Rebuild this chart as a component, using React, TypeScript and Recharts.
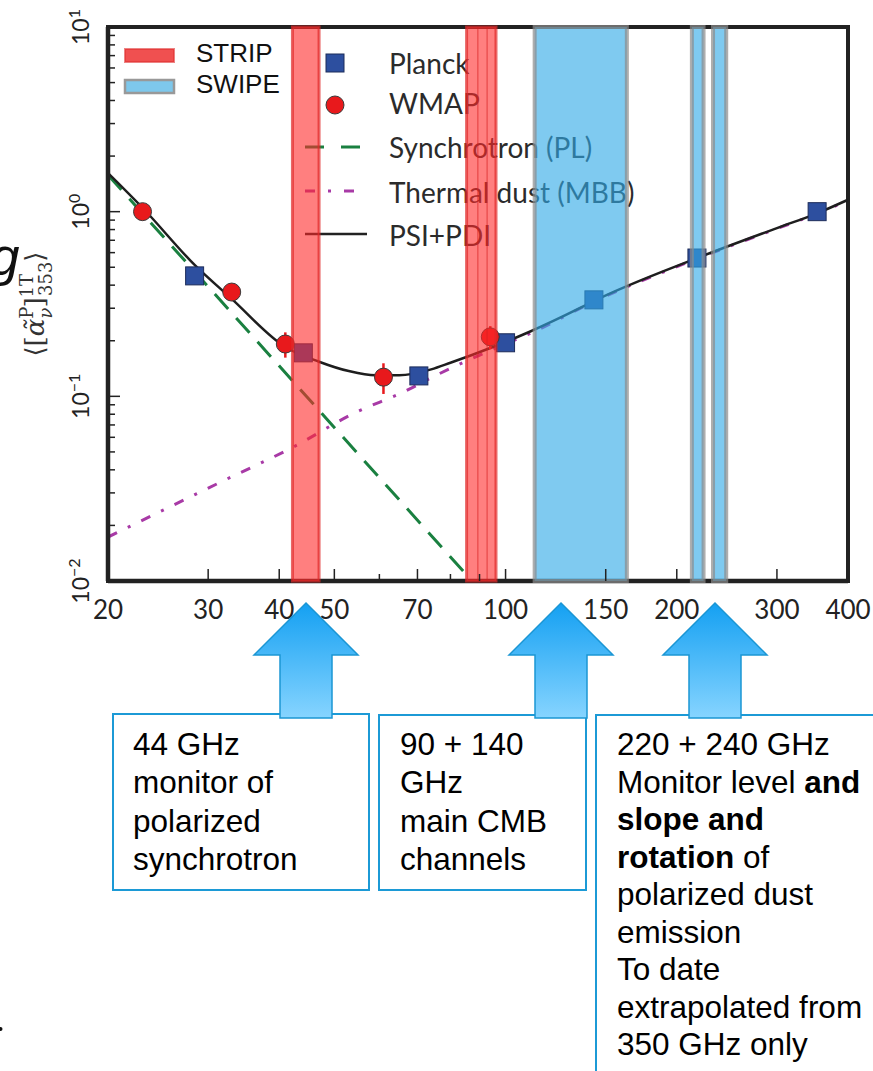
import React from "react";
import {
  ComposedChart,
  Line,
  Scatter,
  ErrorBar,
  XAxis,
  YAxis,
  ReferenceArea,
  ReferenceLine,
} from "recharts";

// frequencies in GHz, values are <[alpha]353>
const planck = [
  { f: 28.4, v: 0.449 },
  { f: 44.1, v: 0.172 },
  { f: 70.4, v: 0.129 },
  { f: 100, v: 0.195 },
  { f: 143, v: 0.333 },
  { f: 217, v: 0.561 },
  { f: 353, v: 1.0 },
];

const wmap = [
  { f: 23, v: 1.0, e: 0.1 },
  { f: 33, v: 0.367, e: 0.02 },
  { f: 41, v: 0.192, e: 0.03 },
  { f: 61, v: 0.127, e: 0.024 },
  { f: 94, v: 0.21, e: 0.03 },
];

const synchrotron = [
  { f: 20, v: 1.58 },
  { f: 87.3, v: 0.01 },
];

const thermalDust = [
  { f: 20, v: 0.0173 },
  { f: 31.6, v: 0.0344 },
  { f: 43, v: 0.0545 },
  { f: 53.3, v: 0.079 },
  { f: 68, v: 0.11 },
  { f: 74, v: 0.126 },
  { f: 84, v: 0.152 },
  { f: 92, v: 0.172 },
  { f: 101, v: 0.195 },
  { f: 110, v: 0.218 },
  { f: 143, v: 0.326 },
  { f: 217, v: 0.556 },
  { f: 300, v: 0.81 },
  { f: 353, v: 0.975 },
  { f: 400, v: 1.15 },
];

const psiPdi = [
  { f: 20, v: 1.62 },
  { f: 23, v: 1.05 },
  { f: 28.4, v: 0.515 },
  { f: 33, v: 0.337 },
  { f: 41, v: 0.185 },
  { f: 47, v: 0.154 },
  { f: 53, v: 0.137 },
  { f: 59, v: 0.13 },
  { f: 65, v: 0.13 },
  { f: 74, v: 0.14 },
  { f: 80, v: 0.152 },
  { f: 95, v: 0.185 },
  { f: 110, v: 0.223 },
  { f: 135, v: 0.3 },
  { f: 143, v: 0.328 },
  { f: 217, v: 0.56 },
  { f: 300, v: 0.815 },
  { f: 353, v: 0.98 },
  { f: 400, v: 1.16 },
];

const stripBands = [
  { x1: 42.2, x2: 47.0 },
  { x1: 85.4, x2: 96.2 },
];
const stripEdges = [89.4, 92.8];
const swipeBands = [
  { x1: 112.5, x2: 163.4 },
  { x1: 212.6, x2: 222.9 },
  { x1: 231.6, x2: 244.3 },
];

const xLabelTicks = [20, 30, 40, 50, 70, 100, 150, 200, 300, 400];
const xMinorTicks = [60, 80, 90];
const xTicks = [...xLabelTicks, ...xMinorTicks].sort((a, b) => a - b);
const yMajorTicks = [0.01, 0.1, 1, 10];
const yMinorTicks = [
  0.02, 0.03, 0.04, 0.05, 0.06, 0.07, 0.08, 0.09,
  0.2, 0.3, 0.4, 0.5, 0.6, 0.7, 0.8, 0.9,
  2, 3, 4, 5, 6, 7, 8, 9,
];
const yTicks = [...yMajorTicks, ...yMinorTicks].sort((a, b) => a - b);

const boxes = [
  { x: 133, step: 38.3, lines: [["44 GHz"], ["monitor of"], ["polarized"], ["synchrotron"]] },
  { x: 400, step: 38.3, lines: [["90 + 140"], ["GHz"], ["main CMB"], ["channels"]] },
  {
    x: 617,
    step: 37.5,
    lines: [
      ["220 + 240 GHz"],
      ["Monitor level ", "and"],
      ["", "slope and"],
      ["", "rotation", " of"],
      ["polarized dust"],
      ["emission"],
      ["To date"],
      ["extrapolated from"],
      ["350 GHz only"],
    ],
  },
];

const PLOT_LEFT = 108;
const PLOT_TOP = 27;
const PLOT_RIGHT = 848;
const PLOT_BOTTOM = 581;

const TICK_FONT = "Lato, 'DejaVu Sans', sans-serif";
const AX = "#222";

const BottomTick = (props: any) => {
  const { x, payload } = props;
  const major = xLabelTicks.includes(payload.value);
  return (
    <g>
      <line x1={x} x2={x} y1={PLOT_BOTTOM} y2={PLOT_BOTTOM - (major ? 12 : 7)} stroke={AX} strokeWidth={1.5} />
      {major && (
        <text x={x} y={PLOT_BOTTOM + 38} textAnchor="middle" fontFamily={TICK_FONT} fontSize={26} fill="#222">
          {payload.value}
        </text>
      )}
    </g>
  );
};

const TopTick = (props: any) => {
  const { x, payload } = props;
  const major = xLabelTicks.includes(payload.value);
  return <line x1={x} x2={x} y1={PLOT_TOP} y2={PLOT_TOP + (major ? 12 : 7)} stroke={AX} strokeWidth={1.5} />;
};

const LeftTick = (props: any) => {
  const { y, payload } = props;
  const v = payload.value;
  const major = yMajorTicks.includes(v);
  const exp = Math.round(Math.log10(v));
  return (
    <g>
      <line x1={PLOT_LEFT} x2={PLOT_LEFT + (major ? 12 : 7)} y1={y} y2={y} stroke={AX} strokeWidth={1.5} />
      {major && (
        <text
          x={89}
          y={y}
          transform={`rotate(-90, 89, ${y})`}
          textAnchor="middle"
          fontFamily={TICK_FONT}
          fontSize={23}
          fill="#222"
        >
          10
          <tspan dy={-9} fontSize={16}>
            {exp < 0 ? `\u2212${-exp}` : exp}
          </tspan>
        </text>
      )}
    </g>
  );
};

const RightTick = (props: any) => {
  const { y, payload } = props;
  const major = yMajorTicks.includes(payload.value);
  return <line x1={PLOT_RIGHT} x2={PLOT_RIGHT - (major ? 12 : 7)} y1={y} y2={y} stroke={AX} strokeWidth={1.5} />;
};

const squareShape = (p: any) => (
  <rect x={p.cx - 9} y={p.cy - 9} width={18} height={18} fill="#2d4f9f" stroke="#1d2c5a" strokeWidth={1} />
);
const circleShape = (p: any) => (
  <circle cx={p.cx} cy={p.cy} r={9} fill="#e8191c" stroke="#3a3a3a" strokeWidth={1} />
);

function LegendLayer() {
  const txt = { fontFamily: "Lato, 'DejaVu Sans', sans-serif", fontSize: 28, fill: "#2b2b2b" };
  const sans = { fontFamily: "'Liberation Sans', Arial, sans-serif", fontSize: 26, fill: "#111" };
  return (
    <svg width={873} height={700} style={{ position: "absolute", left: 0, top: 0 }}>
      {/* heavy plot frame, the chart's own axis lines sit on top of it */}
      <rect
        x={PLOT_LEFT}
        y={PLOT_TOP}
        width={PLOT_RIGHT - PLOT_LEFT}
        height={PLOT_BOTTOM - PLOT_TOP}
        fill="none"
        stroke={AX}
        strokeWidth={4}
      />
      <rect x={125} y={49} width={49} height={13} fill="#f05050" stroke="#e03030" strokeWidth={2} strokeOpacity={0.6} />
      <text x={196} y={62} {...sans}>STRIP</text>
      <rect x={125} y={80} width={49} height={13} fill="#7ec8ec" stroke="#999" strokeWidth={2.5} />
      <text x={196} y={93} {...sans}>SWIPE</text>

      <rect x={326} y={54} width={18} height={18} fill="#2d4f9f" stroke="#1d2c5a" />
      <text x={389} y={74} {...txt}>Planck</text>
      <circle cx={335} cy={105} r={9} fill="#e8191c" stroke="#3a3a3a" />
      <text x={389} y={114} {...txt}>WMAP</text>
      <line x1={305} x2={360} y1={147} y2={147} stroke="#1a8040" strokeWidth={3} strokeDasharray="19 17" />
      <text x={389} y={158} {...txt}>Synchrotron (PL)</text>
      <line x1={305} x2={360} y1={191} y2={191} stroke="#a83aa6" strokeWidth={3} strokeDasharray="10 13 3 13" />
      <text x={389} y={203} {...txt}>Thermal dust (MBB)</text>
      <line x1={305} x2={367} y1={234} y2={234} stroke="#222" strokeWidth={2.5} />
      <text x={389} y={246} {...txt}>PSI+PDI</text>

      <text x={-10} y={275} fontFamily="'Liberation Sans', Arial, sans-serif" fontStyle="italic" fontSize={53} fill="#111">
        g
      </text>
      <text
        x={44}
        y={304}
        transform="rotate(-90, 44, 304)"
        textAnchor="middle"
        fontFamily="'DejaVu Serif', serif"
        fontSize={26}
        fill="#333"
      >
        {"\u27E8["}
        <tspan fontStyle="italic">{"\u03B1\u0303"}</tspan>
        <tspan dy={-11} fontSize={18}>P</tspan>
        <tspan dx={-12} dy={19} fontSize={18} fontStyle="italic">{"\u03BD"}</tspan>
        <tspan dy={-8}>]</tspan>
        <tspan dy={-11} fontSize={18}>1T</tspan>
        <tspan dx={-22} dy={19} fontSize={18}>353</tspan>
        <tspan dy={-8}>{"\u27E9"}</tspan>
      </text>
    </svg>
  );
}

function Annotations() {
  const arrowXs = [306, 561, 715];
  const font = { fontFamily: "'Liberation Sans', Arial, sans-serif", fontSize: 31.5, fill: "#000" };
  const boxRects = [
    { x: 113, y: 714, w: 256, h: 176 },
    { x: 379, y: 715, w: 207, h: 175 },
    { x: 596, y: 715, w: 320, h: 400 },
  ];
  return (
    <svg width={873} height={1071} style={{ position: "absolute", left: 0, top: 0, pointerEvents: "none" }}>
      <defs>
        <linearGradient id="arrowGrad" x1="0" y1="0" x2="0" y2="1">
          <stop offset="0%" stopColor="#14a0f2" />
          <stop offset="100%" stopColor="#86d4ff" />
        </linearGradient>
      </defs>
      {boxRects.map((b, i) => (
        <rect key={i} x={b.x} y={b.y} width={b.w} height={b.h} fill="#fff" stroke="#1c9ad6" strokeWidth={2} />
      ))}
      {arrowXs.map((cx, i) => (
        <path
          key={i}
          d={`M${cx},603 L${cx + 52},655 L${cx + 26},655 L${cx + 26},718 L${cx - 26},718 L${cx - 26},655 L${cx - 52},655 Z`}
          fill="url(#arrowGrad)"
          stroke="#1b96d4"
          strokeWidth={1.5}
        />
      ))}
      {boxes.map((b, i) =>
        b.lines.map((ln, j) => (
          <text key={`${i}-${j}`} x={b.x} y={755 + j * b.step} {...font}>
            {ln[0]}
            {ln[1] && <tspan fontWeight="bold">{ln[1]}</tspan>}
            {ln[2] && <tspan>{ln[2]}</tspan>}
          </text>
        ))
      )}
      <circle cx={0.5} cy={1029} r={2} fill="#111" />
    </svg>
  );
}

export default function App() {
  return (
    <div style={{ position: "absolute", left: 0, top: 0, width: 873, height: 1071, background: "#fff", overflow: "hidden" }}>
      <LegendLayer />
      <div style={{ position: "absolute", left: 0, top: 0 }}>
        <ComposedChart width={873} height={640} margin={{ top: PLOT_TOP, right: 873 - PLOT_RIGHT, left: 0, bottom: 20 }}>
          <XAxis
            dataKey="f"
            type="number"
            scale="log"
            domain={[20, 400]}
            ticks={xTicks}
            allowDataOverflow
            height={39}
            tick={<BottomTick />}
            tickLine={false}
            axisLine={{ stroke: AX, strokeWidth: 4.5 }}
            interval={0}
          />
          <XAxis
            xAxisId="top"
            orientation="top"
            type="number"
            scale="log"
            domain={[20, 400]}
            ticks={xTicks}
            allowDataOverflow
            height={0}
            tick={<TopTick />}
            tickLine={false}
            axisLine={{ stroke: AX, strokeWidth: 3.5 }}
            interval={0}
          />
          <YAxis
            type="number"
            scale="log"
            domain={[0.01, 10]}
            ticks={yTicks}
            allowDataOverflow
            width={PLOT_LEFT}
            tick={<LeftTick />}
            tickLine={false}
            axisLine={{ stroke: AX, strokeWidth: 4.5 }}
            interval={0}
          />
          <YAxis
            yAxisId="right"
            orientation="right"
            type="number"
            scale="log"
            domain={[0.01, 10]}
            ticks={yTicks}
            allowDataOverflow
            width={0}
            tick={<RightTick />}
            tickLine={false}
            axisLine={{ stroke: AX, strokeWidth: 4.5 }}
            interval={0}
          />
          <Line
            data={synchrotron}
            dataKey="v"
            type="linear"
            stroke="#1a8040"
            strokeWidth={3}
            strokeDasharray="20 12"
            dot={false}
            isAnimationActive={false}
          />
          <Line
            data={thermalDust}
            dataKey="v"
            type="monotone"
            stroke="#a83aa6"
            strokeWidth={3}
            strokeDasharray="10 12 3 12"
            dot={false}
            isAnimationActive={false}
          />
          <Line
            data={psiPdi}
            dataKey="v"
            type="monotone"
            stroke="#1e1e1e"
            strokeWidth={2.5}
            dot={false}
            isAnimationActive={false}
          />
          <Scatter data={planck} dataKey="v" shape={squareShape} isAnimationActive={false} />
          <Scatter data={wmap} dataKey="v" shape={circleShape} isAnimationActive={false}>
            <ErrorBar dataKey="e" direction="y" width={0} stroke="#e8191c" strokeWidth={2.5} />
          </Scatter>
          {stripBands.map((b, i) => (
            <ReferenceArea
              key={`s${i}`}
              x1={b.x1}
              x2={b.x2}
              fill="#ff2a2a"
              fillOpacity={0.6}
              stroke="#e02828"
              strokeOpacity={0.7}
              strokeWidth={3}
              zIndex={800}
            />
          ))}
          {stripEdges.map((x, i) => (
            <ReferenceLine key={`e${i}`} x={x} stroke="#d42020" strokeOpacity={0.7} strokeWidth={1} zIndex={800} />
          ))}
          {swipeBands.map((b, i) => (
            <ReferenceArea
              key={`w${i}`}
              x1={b.x1}
              x2={b.x2}
              fill="#30aae6"
              fillOpacity={0.62}
              stroke="#8c8c8c"
              strokeOpacity={0.7}
              strokeWidth={4}
              zIndex={800}
            />
          ))}
        </ComposedChart>
      </div>
      <Annotations />
    </div>
  );
}
